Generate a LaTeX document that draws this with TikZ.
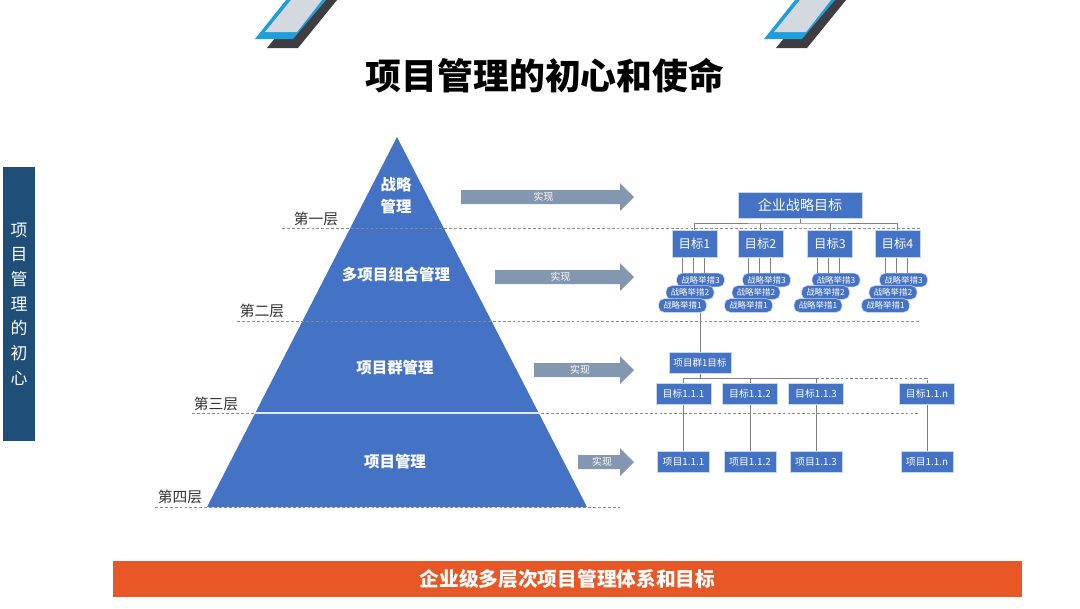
\documentclass[tikz,border=0pt]{standalone}
\usepackage{fontspec}
\setmainfont{Noto Sans CJK SC}
\usetikzlibrary{positioning,backgrounds}
\definecolor{pyrblue}{RGB}{68,114,196}
\definecolor{arrowgray}{RGB}{132,151,176}
\definecolor{navy}{RGB}{31,78,121}
\definecolor{barorange}{RGB}{232,88,38}
\definecolor{markblue}{RGB}{32,158,218}
\definecolor{markdark}{RGB}{62,62,66}
\definecolor{markpale}{RGB}{212,217,224}

\begin{document}
\begin{tikzpicture}[x=0.025cm, y=-0.025cm,
  goal/.style={draw=white!70!pyrblue, fill=pyrblue, text=white, inner sep=0pt, font=\fontsize{8.8}{10}\selectfont, minimum width=1.125cm, minimum height=0.675cm},
  measure/.style={goal, rounded corners=4pt, font=\fontsize{6}{7}\selectfont, minimum width=1.2cm, minimum height=0.34cm},
  subgoal/.style={goal, font=\fontsize{7}{8}\selectfont, minimum width=1.375cm, minimum height=0.525cm},
  layerlabel/.style={font=\fontsize{10.5}{12}\selectfont, text=black!80},
  tier/.style={font=\bfseries\fontsize{11}{15.5}\selectfont, text=white, align=center},
  link/.style={draw=black!50, line width=0.6pt},
  guide/.style={draw=black!45, dash pattern=on 2pt off 1.5pt, line width=0.5pt},
  realize/.style={fill=arrowgray},
  arrowtag/.style={font=\fontsize{7}{8}\selectfont, text=white}
]
\useasboundingbox (0,0) rectangle (1080,608);
% Corner marks
\foreach \dx in {0,509}{
  \fill[markdark] (267+\dx,48) -- (298+\dx,48) -- (337+\dx,0) -- (306+\dx,0) -- cycle;
  \fill[markblue] (255+\dx,39) -- (293+\dx,39) -- (326+\dx,0) -- (286+\dx,0) -- cycle;
  \fill[markpale] (265+\dx,32) -- (297+\dx,32) -- (322+\dx,0) -- (291+\dx,0) -- cycle;
}
% Title
\node[font=\bfseries\fontsize{25.5}{30}\selectfont] (title) at (545,76) {项目管理的初心和使命};
% Side band
\node[fill=navy, text=white, minimum width=0.8cm, minimum height=6.85cm, inner sep=0pt, align=center, font=\fontsize{12}{17.5}\selectfont] (side) at (19,304) {项\\目\\管\\理\\的\\初\\心};
% Pyramid
\fill[pyrblue] (397,137) -- (587,507) -- (207,507) -- cycle;
\draw[guide] (282,228) -- (920,228);
\draw[guide] (237,321) -- (920,321);
\draw[guide] (192,413) -- (920,413);
\draw[white!85!pyrblue, line width=0.8pt] (255,413) -- (539,413);
\draw[guide] (155,507) -- (620,507);
\node[tier] (lv1) at (396,196) {战略\\管理};
\node[tier] (lv2) at (396,275) {多项目组合管理};
\node[tier] (lv3) at (395,368) {项目群管理};
\node[tier] (lv4) at (395,462) {项目管理};
% Layer labels
\node[layerlabel] (c1) at (316,219) {第一层};
\node[layerlabel] (c2) at (262,311) {第二层};
\node[layerlabel] (c3) at (216,404) {第三层};
\node[layerlabel] (c4) at (180,497) {第四层};
% Realize arrows
\foreach \x/\y/\n in {461/197/a1, 495/277/a2, 534/370/a3, 578/462/a4}{
  \fill[realize] (\x,\y-7) -- (620,\y-7) -- (620,\y-14) -- (634,\y) -- (620,\y+14) -- (620,\y+7) -- (\x,\y+7) -- cycle;
  \node[arrowtag] (\n) at ({(\x+620)/2+3},\y) {实现};
}
% Strategy goals
\node[goal, font=\fontsize{10}{12}\selectfont, minimum width=3.1cm, minimum height=0.65cm] (top) at (800,205) {企业战略目标};
\coordinate (bus1) at (800,223);
\foreach \i/\cx in {1/694.5,2/760.5,3/830,4/897.5}{
  \node[goal] (g\i) at (\cx,243.5) {目标\i};
  \node[measure] (m\i-3) at (\cx+6,280) {战略举措3};
  \node[measure] (m\i-2) at (\cx-4.5,292.5) {战略举措2};
  \node[measure] (m\i-1) at (\cx-12,305.5) {战略举措1};
}
% Program and project goals
\node[goal, font=\fontsize{6.8}{8}\selectfont, minimum width=1.55cm, minimum height=0.525cm] (pg) at (700,362.5) {项目群1目标};
\coordinate (bus2) at (700,378);
\foreach \j/\cx/\lab in {1/683.5/1.1.1, 2/750/1.1.2, 3/816/1.1.3, n/927/1.1.n}{
  \node[subgoal] (s\j) at (\cx,393.5) {目标\lab};
  \node[subgoal, minimum width=1.3cm] (p\j) at (\cx,461.5) {项目\lab};
}
% Connectors
\begin{scope}[on background layer]
\draw[link] (top.south) -- (bus1);
\draw[link] (g1.north) |- (bus1) -| (g4.north);
\draw[link] (g2.north) -- (g2.north |- bus1);
\draw[link] (g3.north) -- (g3.north |- bus1);
\foreach \i in {1,...,4}{
  \draw[link] ([xshift=-0.3125cm]g\i.south) -- ([xshift=-0.3125cm]g\i.south |- m\i-1.north);
  \draw[link] ([xshift=-0.0375cm]g\i.south) -- ([xshift=-0.0375cm]g\i.south |- m\i-2.north);
  \draw[link] ([xshift=0.2375cm]g\i.south) -- ([xshift=0.2375cm]g\i.south |- m\i-3.north);
}
\draw[link] (pg.north) -- (pg.north |- m1-1.south);
\draw[link] (pg.south) -- (bus2);
\draw[link] (s1.north) |- (bus2) -| (s3.north);
\draw[link] (s2.north) -- (s2.north |- bus2);
\draw[link, dash pattern=on 2pt off 1.5pt] (s3.north |- bus2) -| (sn.north);
\foreach \j in {1,2,3,n}
  \draw[link] (s\j.south) -- (p\j.north);
\end{scope}
% Bottom band
\node[fill=barorange, text=white, minimum width=22.725cm, minimum height=0.9cm, inner sep=0pt, font=\bfseries\fontsize{14}{16}\selectfont] (band) at (567.5,579) {企业级多层次项目管理体系和目标};
\end{tikzpicture}
\end{document}
